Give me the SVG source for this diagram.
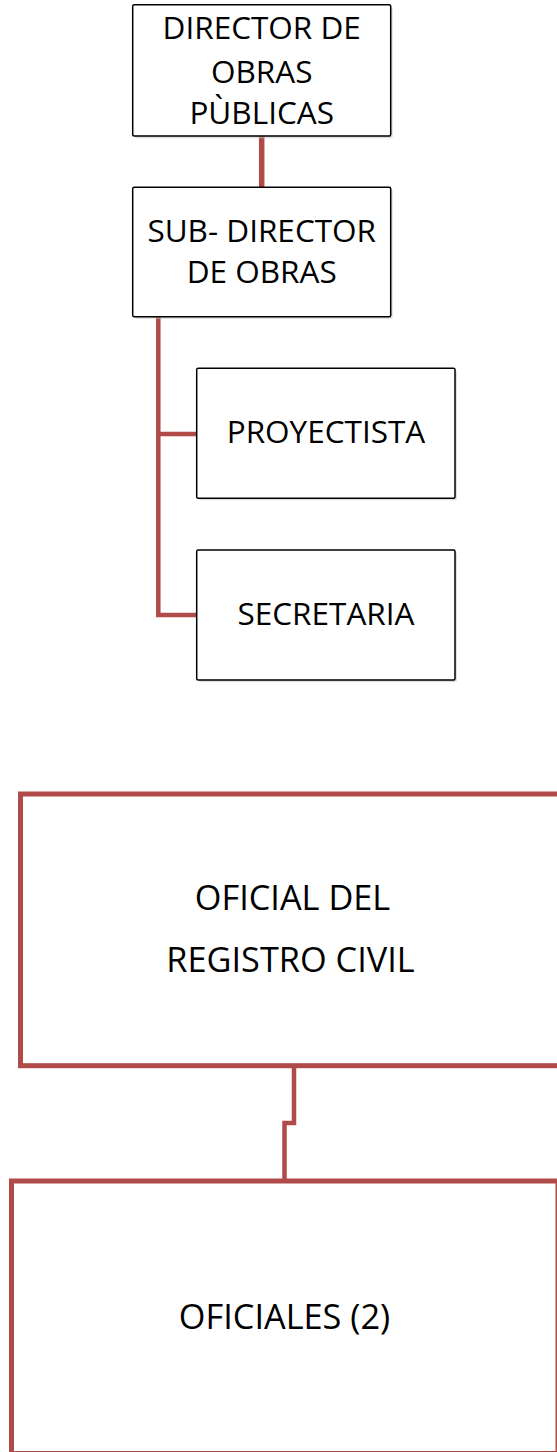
<svg xmlns="http://www.w3.org/2000/svg" width="557" height="1452" viewBox="0 0 557 1452">
<style>
.box{fill:#ffffff;stroke:#000000;stroke-width:1.5}
.shadow{fill:#c8c8c8}
.big{fill:#ffffff;stroke:#b04b49;stroke-width:5}
.con{fill:none;stroke:#b04b49;stroke-linejoin:miter}
text{font-family:"Open Sans","Noto Sans","Liberation Sans",sans-serif;fill:#000000;text-anchor:middle}
.s{font-size:31.5px}
.l{font-size:34.3px}
</style>
<rect x="0" y="0" width="557" height="1452" fill="#ffffff"/>
<g id="connectors">
<line class="con" x1="261.7" y1="136" x2="261.7" y2="187.3" stroke-width="5.5"/>
<polyline class="con" points="158.3,316.7 158.3,615 196.7,615" stroke-width="4.5"/>
<line class="con" x1="158.3" y1="434" x2="196.7" y2="434" stroke-width="4.5"/>
<polyline class="con" points="294,1065.7 294,1123 284.5,1123 284.5,1181" stroke-width="4.5"/>
</g>
<g id="director">
<rect class="shadow" x="134.7" y="7" width="258" height="131.3" rx="2" opacity="0.6"/>
<rect class="box" x="132.7" y="4.7" width="258" height="131.3" rx="1.5"/>
<text class="s" x="261.7" y="39.3">DIRECTOR DE</text>
<text class="s" x="261.7" y="82.7">OBRAS</text>
<text class="s" x="261.7" y="124">PÙBLICAS</text>
</g>
<g id="subdirector">
<rect class="shadow" x="134.7" y="189.3" width="258" height="129.4" rx="2" opacity="0.6"/>
<rect class="box" x="132.7" y="187.3" width="258" height="129.4" rx="1.5"/>
<text class="s" x="261.7" y="241.7">SUB- DIRECTOR</text>
<text class="s" x="261.7" y="282.7">DE OBRAS</text>
</g>
<g id="proyectista">
<rect class="shadow" x="198.7" y="370.3" width="258.3" height="130" rx="2" opacity="0.6"/>
<rect class="box" x="196.7" y="368.3" width="258.3" height="130" rx="1.5"/>
<text class="s" x="326" y="443.3">PROYECTISTA</text>
</g>
<g id="secretaria">
<rect class="shadow" x="198.7" y="552" width="258.3" height="130" rx="2" opacity="0.6"/>
<rect class="box" x="196.7" y="550" width="258.3" height="130" rx="1.5"/>
<text class="s" x="326" y="625">SECRETARIA</text>
</g>
<g id="oficial">
<rect class="big" x="20.5" y="794" width="542" height="271.7"/>
<text class="l" x="292.5" y="910">OFICIAL DEL</text>
<text class="l" x="290.5" y="971.7">REGISTRO CIVIL</text>
</g>
<g id="oficiales">
<rect class="big" x="11.5" y="1181" width="546.5" height="272.5"/>
<text class="l" x="284.5" y="1328.5">OFICIALES (2)</text>
</g>
</svg>
